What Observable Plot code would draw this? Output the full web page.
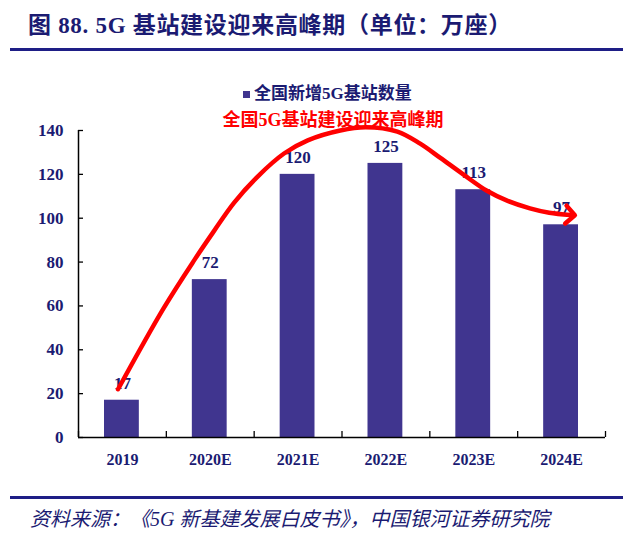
<!DOCTYPE html>
<html>
<head>
<meta charset="utf-8">
<script src="https://cdn.jsdelivr.net/npm/d3@7"></script>
<script src="https://cdn.jsdelivr.net/npm/@observablehq/plot@0.6"></script>
<style>
  body { margin: 0; width: 640px; height: 545px; position: relative; background: #fff; overflow: hidden;
         font-family: "Liberation Serif", "Noto Sans CJK SC", serif; }
  .abs { position: absolute; z-index: 2; white-space: nowrap; }
  #title { left: 28px; top: 11px; font-size: 23px; font-weight: bold; color: #1b1b72; line-height: 30px; letter-spacing: 0.7px; }
  .rule { left: 10px; width: 613px; height: 3px; background: #1e1e86; }
  #legend { left: 243px; top: 84px; font-size: 17px; font-weight: bold; color: #1b1b72; line-height: 20px; display: flex; align-items: center; }
  #legend .sw { width: 7px; height: 7px; background: #40358f; margin-right: 4px; }
  #note { left: 0; width: 666px; text-align: center; top: 109px; font-size: 18px; font-weight: bold; color: #ff0000; line-height: 22px; }
  #source { left: 30px; top: 506px; font-size: 20px; font-style: italic; color: #1b1b72; line-height: 26px; }
  #chart { position: absolute; left: 0; top: 100px; z-index: 1; }
</style>
</head>
<body>
<div id="title" class="abs">图 88. 5G 基站建设迎来高峰期（单位：万座）</div>
<div class="abs rule" style="top:48px"></div>
<div id="legend" class="abs"><span class="sw"></span><span>全国新增5G基站数量</span></div>
<div id="note" class="abs">全国5G基站建设迎来高峰期</div>
<div id="chart"></div>
<div class="abs rule" style="top:496px"></div>
<div id="source" class="abs">资料来源：《5G 新基建发展白皮书》，中国银河证券研究院</div>
<script>
// ---- data ----
const years = ["2019", "2020E", "2021E", "2022E", "2023E", "2024E"];
const newStations = [17, 72, 120, 125, 113, 97];
const yTicks = [0, 20, 40, 60, 80, 100, 120, 140];
// hand-drawn red trend arrow (category index, value)
const trendIdx = [-0.05, 0.47, 0.82, 1.04, 1.27, 1.54, 1.84, 2.11, 2.48, 2.77, 3.13, 3.39, 3.62, 3.88, 4.15, 4.38, 4.64, 4.86, 5.1];
const trendVal = [22, 59, 81, 94, 107, 119, 129.5, 135.5, 140, 141.5, 139.5, 134, 127.5, 120, 112.5, 108, 104.5, 102.5, 101.5];

const rows = years.map((y, i) => ({i, year: y, value: newStations[i]}));
const trend = trendIdx.map((x, k) => ({x, y: trendVal[k]}));
const edges = d3.range(years.length + 1).map(k => k - 0.5);

const W = 640, H = 380, mL = 78, mR = 35, mT = 30, mB = 43;
const navy = "#1b1b72";
const numFont = "Liberation Serif";

const chart = Plot.plot({
  width: W, height: H,
  marginLeft: mL, marginRight: mR, marginTop: mT, marginBottom: mB,
  style: {background: "transparent", fontFamily: numFont, color: navy, overflow: "visible"},
  x: {domain: [-0.5, years.length - 0.5]},
  y: {domain: [0, 140]},
  marks: [
    Plot.rectY(rows, {x1: d => d.i - 0.5, x2: d => d.i + 0.5, y: "value", fill: "#40358f", insetLeft: 26, insetRight: 27}),
    Plot.axisY({ticks: yTicks, tickSize: 0, tickPadding: 15, label: null, fontSize: 17, fontWeight: "bold", fill: navy}),
    Plot.axisX({ticks: d3.range(years.length), tickFormat: i => years[i], tickSize: 0, tickPadding: 16, label: null, fontSize: 16, fontWeight: "bold", fill: navy}),
    Plot.tickY(yTicks, {y: d => d, stroke: "#000", strokeWidth: 1.3, insetRight: W - mL - mR - 5}),
    Plot.tickX(edges, {x: d => d, stroke: "#000", strokeWidth: 1.3, insetTop: H - mT - mB - 6}),
    Plot.ruleX([-0.5], {stroke: "#000", strokeWidth: 1.5}),
    Plot.ruleY([0], {stroke: "#000", strokeWidth: 1.5}),
    Plot.text(rows, {x: "i", y: "value", text: d => String(d.value), dy: -17, lineAnchor: "middle", fontSize: 17, fontWeight: "bold", fill: navy, fontFamily: numFont}),
    Plot.line(trend, {x: "x", y: "y", stroke: "#ff0000", strokeWidth: 4.5, curve: "catmull-rom", markerEnd: "arrow", strokeLinecap: "round"})
  ]
});
document.getElementById("chart").appendChild(chart);
</script>
</body>
</html>
